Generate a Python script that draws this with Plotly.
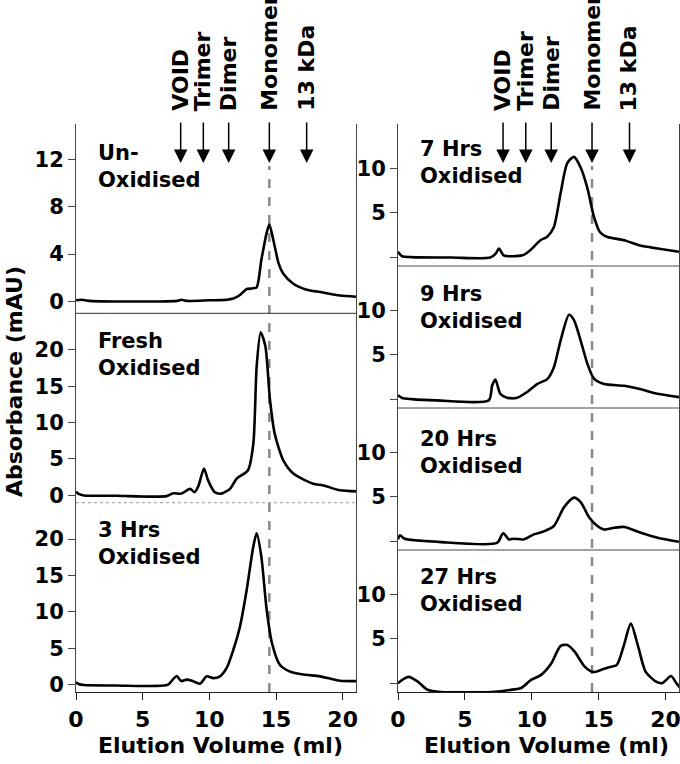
import plotly.graph_objects as go

# ---------------- data ----------------
un_x = [0, 0.4, 1.0, 3, 6, 7.6, 7.9, 8.3, 10, 11.3, 11.8, 12.3, 12.8, 13.2, 13.55, 13.9, 14.3, 14.5, 14.8, 15.2, 15.55, 16.3, 17.3, 18.3, 19.8, 21]
un_y = [0.1, 0.15, 0.05, 0.0, 0.0, 0.05, 0.15, 0.05, 0.1, 0.15, 0.25, 0.55, 1.05, 1.1, 1.2, 3.5, 5.8, 6.5, 5.2, 3.2, 2.35, 1.5, 1.0, 0.8, 0.5, 0.4]

fresh_x = [0, 0.2, 0.6, 3, 6.8, 7.3, 7.9, 8.55, 8.9, 9.2, 9.6, 9.9, 10.4, 10.9, 11.55, 12.05, 12.9, 13.3, 13.55, 13.85, 14.2, 14.55, 14.9, 15.55, 16.3, 17.8, 18.5, 19.8, 21]
fresh_y = [0.5, 0.2, 0.0, -0.05, -0.1, 0.3, 0.25, 0.9, 0.45, 1.4, 3.7, 2.1, 0.45, 0.25, 0.9, 2.3, 3.45, 7.1, 17.7, 22.4, 20.5, 13.1, 8.5, 4.8, 3.0, 1.6, 1.4, 0.7, 0.55]

h3_x = [0, 0.2, 0.6, 3, 6.9, 7.3, 7.55, 7.9, 8.3, 8.7, 9.3, 9.8, 10.3, 10.8, 11.3, 11.8, 12.3, 12.8, 13.3, 13.55, 13.9, 14.3, 14.7, 15.3, 16.05, 17.05, 18.3, 19.8, 21]
h3_y = [0.35, 0.1, -0.05, -0.1, 0.0, 0.8, 1.2, 0.5, 0.7, 0.55, 0.15, 1.15, 0.9, 1.15, 2.3, 4.8, 8.0, 13.0, 19.0, 20.8, 17.6, 10.3, 5.7, 2.7, 1.8, 1.4, 1.15, 0.55, 0.5]

h7_x = [0, 0.3, 1, 4, 6.9, 7.3, 7.55, 7.9, 9.3, 9.9, 10.65, 11.15, 11.65, 12.15, 12.65, 13.15, 13.65, 14.15, 14.65, 15.1, 15.6, 16.9, 18.1, 19.4, 21]
h7_y = [0.6, 0.1, 0.0, -0.05, -0.05, 0.4, 0.97, 0.2, 0.2, 0.8, 1.9, 2.3, 3.4, 7.2, 10.6, 11.3, 10.1, 7.8, 4.5, 2.8, 2.3, 1.9, 1.3, 0.97, 0.6]

h9_x = [0, 0.3, 1, 2.9, 6.78, 7.03, 7.28, 7.65, 8.15, 8.9, 9.65, 10.4, 11.15, 11.65, 12.15, 12.78, 13.15, 13.65, 14.15, 14.65, 15.4, 16.9, 18.15, 19.4, 21]
h9_y = [0.45, 0.13, 0.0, -0.14, -0.14, 1.5, 2.2, 0.6, 0.16, 0.16, 0.8, 1.7, 2.25, 3.6, 6.6, 9.5, 8.9, 6.6, 4.0, 2.3, 1.7, 1.5, 1.1, 0.6, 0.22]

h20_x = [0, 0.15, 0.5, 3.0, 7.4, 7.78, 7.9, 8.28, 8.65, 9.4, 10.15, 10.9, 11.65, 12.4, 13.15, 13.65, 14.28, 14.9, 15.4, 16.15, 16.9, 18.15, 19.4, 21]
h20_y = [0.2, 0.65, 0.27, -0.08, -0.2, 0.76, 0.87, 0.19, 0.27, 0.19, 0.76, 1.1, 1.7, 3.8, 4.9, 4.4, 2.7, 1.7, 1.3, 1.5, 1.6, 0.95, 0.38, -0.08]

h27_x = [0, 0.4, 0.8, 1.45, 2.2, 3.2, 6.95, 8.2, 9.2, 9.95, 10.7, 11.45, 12.15, 12.65, 13.2, 13.95, 14.6, 15.2, 15.7, 16.35, 16.85, 17.4, 17.95, 18.5, 19.25, 19.75, 20.4, 20.8, 21.2]
h27_y = [0.0, 0.45, 0.7, 0.2, -0.75, -1.0, -1.0, -0.8, -0.55, 0.37, 0.93, 2.2, 4.2, 4.3, 3.55, 1.86, 1.25, 1.5, 1.76, 2.06, 4.1, 6.7, 4.1, 1.3, 0.2, 0.0, 0.8, 0.0, -0.75]

marker_names = ["VOID", "Trimer", "Dimer", "Monomer", "13 kDa"]
marker_pos = [7.85, 9.55, 11.45, 14.5, 17.3]
monomer_pos = 14.5

left_labels = ["Un-<br>Oxidised", "Fresh<br>Oxidised", "3 Hrs<br>Oxidised"]
right_labels = ["7 Hrs<br>Oxidised", "9 Hrs<br>Oxidised", "20 Hrs<br>Oxidised", "27 Hrs<br>Oxidised"]
x_ticks = [0, 5, 10, 15, 20]
x_title = "Elution Volume (ml)"
y_title = "Absorbance (mAU)"

# ---------------- layout geometry ----------------
W, H = 680, 764
FONT = "DejaVu Sans"
def py(p):  # pixel row -> paper y
    return 1 - p / H

LX = [76 / W, 356 / W]
RX = [398 / W, 679 / W]
left_b = [124, 313.3, 502.7, 692]
right_b = [124, 266, 408, 550, 692]

fig = go.Figure()

AX_COL = "#444444"
tickfont = dict(family=FONT, size=21, color="black")

left_series = [(un_x, un_y, [-1, 15], [0, 4, 8, 12], ["0", "4", "8", "12"]),
               (fresh_x, fresh_y, [-1, 25], [0, 5, 10, 15, 20], None),
               (h3_x, h3_y, [-1, 25], [0, 5, 10, 15, 20], None)]
right_series = [(h7_x, h7_y), (h9_x, h9_y), (h20_x, h20_y), (h27_x, h27_y)]

panels = []
for i, (xs, ys, yr, tv, tt) in enumerate(left_series):
    panels.append(dict(x=xs, y=ys, xd=LX, yd=[py(left_b[i + 1]), py(left_b[i])], yr=yr,
                       tv=tv, tt=tt, bottom=(i == 2), label=left_labels[i], col="L", idx=i))
for i, (xs, ys) in enumerate(right_series):
    panels.append(dict(x=xs, y=ys, xd=RX, yd=[py(right_b[i + 1]), py(right_b[i])], yr=[-1, 15],
                       tv=[0, 5, 10], tt=["", "5", "10"], bottom=(i == 3), label=right_labels[i], col="R", idx=i))

sep_styles = {("L", 0): dict(color="#333333", dash="solid", w=1),
              ("L", 1): dict(color="#999999", dash="dot", w=1),
              ("R", 0): dict(color="#888888", dash="solid", w=1.5),
              ("R", 1): dict(color="#444444", dash="solid", w=1),
              ("R", 2): dict(color="#444444", dash="solid", w=1)}

label_top = {("L", 0): 0.92, ("L", 1): 0.93, ("L", 2): 0.93,
             ("R", 0): 0.92, ("R", 1): 0.90, ("R", 2): 0.88, ("R", 3): 0.905}

for k, p in enumerate(panels):
    n = "" if k == 0 else str(k + 1)
    xa, ya = "x" + n, "y" + n
    fig.add_trace(go.Scatter(x=p["x"], y=p["y"], mode="lines", xaxis=xa, yaxis=ya,
                             line=dict(color="black", width=2.6, shape="spline", smoothing=0.7),
                             showlegend=False, hoverinfo="skip", cliponaxis=True))
    xkw = dict(domain=p["xd"], range=[0, 21], anchor=ya, showgrid=False, zeroline=False,
               fixedrange=True, automargin=False)
    if p["bottom"]:
        xkw.update(showline=True, linecolor="#222222", linewidth=1.2, ticks="outside", ticklen=7,
                   tickcolor="#222222", tickvals=x_ticks, ticklabeloverflow="allow",
                   ticktext=["<b>%d</b>" % v for v in x_ticks],
                   tickfont=dict(family=FONT, size=22, color="black"))
    else:
        xkw.update(showline=False, showticklabels=False, ticks="")
    ykw = dict(domain=p["yd"], range=p["yr"], anchor=xa, showgrid=False, zeroline=False,
               showline=True, linecolor=AX_COL, linewidth=1, mirror=True, ticks="outside",
               ticklen=7, tickcolor=AX_COL, tickvals=p["tv"], tickfont=tickfont, fixedrange=True,
               automargin=False)
    if p["tt"] is not None:
        ykw["ticktext"] = ["<b>%s</b>" % t if t else "" for t in p["tt"]]
    else:
        ykw["ticktext"] = ["<b>%s</b>" % t for t in p["tv"]]
    fig.layout["xaxis" + n] = xkw
    fig.layout["yaxis" + n] = ykw

    # separator line beneath non-bottom panels
    if not p["bottom"]:
        s = sep_styles[(p["col"], p["idx"])]
        fig.add_shape(type="line", xref="paper", yref="paper", x0=p["xd"][0], x1=p["xd"][1],
                      y0=p["yd"][0], y1=p["yd"][0],
                      line=dict(color=s["color"], width=s["w"], dash=s["dash"]))
    # panel label
    fig.add_annotation(xref=xa + " domain", yref=ya + " domain", x=0.07, y=label_top[(p["col"], p["idx"])],
                       xanchor="left", yanchor="top", align="left", showarrow=False,
                       text="<b>%s</b>" % p["label"], font=dict(family=FONT, size=21, color="black"))

# marker arrows and labels in both columns
tip_y = py(163)
for xa in ["x", "x4"]:
    for name, pos in zip(marker_names, marker_pos):
        fig.add_annotation(x=pos, y=tip_y, xref=xa, yref="paper", ax=0, ay=-42,
                           showarrow=True, arrowhead=2, arrowsize=1.8, arrowwidth=1.5, arrowcolor="black", text="")
        fig.add_annotation(x=pos, y=py(113), xref=xa, yref="paper", textangle=-90, showarrow=False,
                           xanchor="center", yanchor="bottom", text="<b>%s</b>" % name,
                           font=dict(family=FONT, size=22, color="black"))
    # dashed monomer line
    fig.add_shape(type="line", xref=xa, yref="paper", x0=monomer_pos, x1=monomer_pos,
                  y0=py(692), y1=py(166), line=dict(color="#888888", width=2.5, dash="dash"), layer="below")

# x axis titles (one per column)
for cx in [220, 546]:
    fig.add_annotation(xref="paper", yref="paper", x=cx / W, y=py(760), showarrow=False,
                       xanchor="center", yanchor="bottom", text="<b>%s</b>" % x_title,
                       font=dict(family=FONT, size=22, color="black"))

# y axis title
fig.add_annotation(xref="paper", yref="paper", x=14 / W, y=py(382), textangle=-90, showarrow=False,
                   xanchor="center", yanchor="middle", text="<b>%s</b>" % y_title,
                   font=dict(family=FONT, size=22, color="black"))

fig.update_layout(width=W, height=H, margin=dict(l=0, r=0, t=0, b=0),
                  paper_bgcolor="white", plot_bgcolor="white", showlegend=False)

fig.write_html("out.html", config={"displayModeBar": False},
               post_script="document.body.style.margin='0';document.body.style.overflow='hidden';")
